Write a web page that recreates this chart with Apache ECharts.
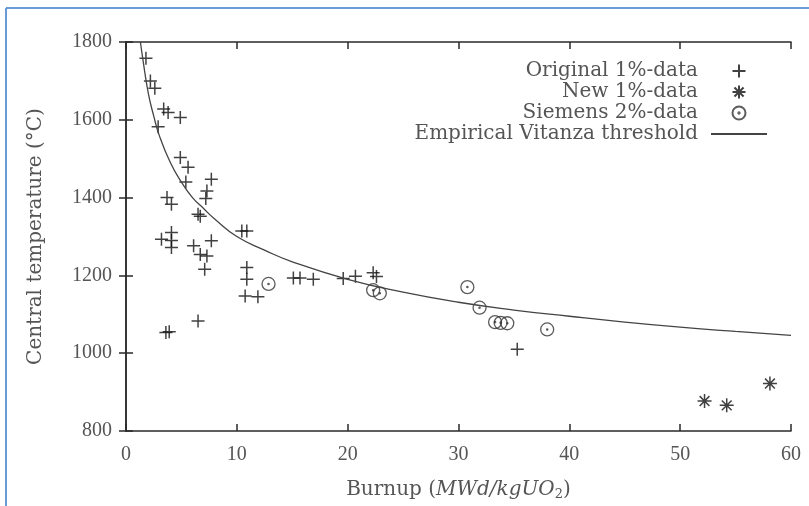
<!DOCTYPE html>
<html>
<head>
<meta charset="utf-8">
<script src="https://cdn.jsdelivr.net/npm/echarts@6/dist/echarts.min.js"></script>
<style>
  html, body { margin: 0; padding: 0; background: #fff; }
  #chart { width: 809px; height: 506px; }
</style>
</head>
<body>
<div id="chart"></div>
<script>
// Original 1%-data  [burnup, temperature]
var original = [
  [1.8, 1758], [2.2, 1700], [2.6, 1681], [3.4, 1628], [3.8, 1619], [4.9, 1606],
  [2.9, 1582], [4.9, 1503], [5.6, 1478], [5.4, 1440], [7.7, 1447], [7.3, 1417],
  [7.2, 1398], [3.7, 1400], [4.1, 1383], [6.5, 1357], [6.7, 1352], [10.45, 1314],
  [10.9, 1314], [3.2, 1293], [4.1, 1310], [4.1, 1290], [4.1, 1272], [6.1, 1276],
  [7.7, 1289], [6.7, 1254], [7.3, 1250], [7.1, 1216], [10.9, 1220], [10.9, 1190],
  [10.75, 1147], [11.9, 1145], [15.1, 1193], [15.7, 1193], [16.9, 1190], [19.6, 1192],
  [20.7, 1198], [22.3, 1207], [22.6, 1197], [3.6, 1053], [3.9, 1055], [6.5, 1083],
  [35.3, 1010]
]
// New 1%-data
var newData = [[52.2, 877], [54.2, 866], [58.1, 922]]
// Siemens 2%-data
var siemens = [
  [12.86, 1178], [22.3, 1162], [22.9, 1154], [30.8, 1170], [31.9, 1117],
  [33.3, 1080], [33.8, 1078], [34.4, 1077], [38.0, 1061]
]
// Empirical Vitanza threshold
var threshold = [
  [1.3, 1800], [1.5, 1760], [2, 1670], [2.5, 1610], [3, 1560], [4, 1490],
  [5, 1440], [6, 1400], [7, 1372], [8, 1345], [10, 1300], [12.5, 1265],
  [15, 1235], [20, 1190], [25, 1157], [30, 1131], [35, 1111], [40, 1095],
  [45, 1080], [50, 1067], [55, 1056], [60, 1046]
]

var numFont = 'Liberation Serif'
var textFont = 'DejaVu Serif'
var textGray = '#555'
var axisColor = '#2a2a2a'

var plusPath = 'path://M0,5L10,5M5,0L5,10'
var starPath = 'path://M0,5L10,5M5,0L5,10M1.5,1.5L8.5,8.5M1.5,8.5L8.5,1.5'
var circPath = 'path://M10,5A5,5 0 1 1 0,5A5,5 0 1 1 10,5ZM5.5,5A0.5,0.5 0 1 1 4.5,5A0.5,0.5 0 1 1 5.5,5Z'

function xAx(pos, showLabel) {
  return {
    type: 'value', position: pos, min: 0, max: 60, interval: 10,
    axisLine: { show: true, lineStyle: { color: axisColor, width: 1.5 } },
    axisTick: { show: true, inside: true, length: 7, lineStyle: { color: axisColor, width: 1.5 } },
    axisLabel: { show: showLabel, color: textGray, fontFamily: numFont, fontSize: 20, margin: 14 },
    splitLine: { show: false }
  }
}
function yAx(pos, showLabel) {
  return {
    type: 'value', position: pos, min: 800, max: 1800, interval: 200,
    axisLine: { show: true, lineStyle: { color: axisColor, width: 1.5 } },
    axisTick: { show: true, inside: true, length: 7, lineStyle: { color: axisColor, width: 1.5 } },
    axisLabel: {
      show: showLabel, color: textGray, fontFamily: numFont, fontSize: 20, margin: 14,
      formatter: function (v) { return String(v) }
    },
    splitLine: { show: false }
  }
}

var xBottom = xAx('bottom', true)
xBottom.name = '{r|Burnup (}{i|MWd/kgUO}{s|2}{r|)}'
xBottom.nameLocation = 'middle'
xBottom.nameGap = 48
xBottom.nameTextStyle = {
  color: textGray,
  rich: {
    r: { fontFamily: textFont, fontSize: 20, color: textGray },
    i: { fontFamily: textFont, fontSize: 20, fontStyle: 'italic', color: textGray },
    s: { fontFamily: textFont, fontSize: 13, color: textGray, padding: [9, 0, 0, 0] }
  }
}
var yLeft = yAx('left', true)
yLeft.name = 'Central temperature (°C)'
yLeft.nameLocation = 'middle'
yLeft.nameGap = 80
yLeft.nameTextStyle = { color: textGray, fontFamily: textFont, fontSize: 20 }

var chart = echarts.init(document.getElementById('chart'))
chart.setOption({
  animation: false,
  backgroundColor: '#fff',
  grid: { left: 126, right: 18, top: 42, bottom: 74 },
  xAxis: [xBottom, xAx('top', false)],
  yAxis: [yLeft, yAx('right', false)],
  legend: {
    orient: 'vertical',
    right: 36,
    top: 56,
    align: 'right',
    itemWidth: 56,
    itemHeight: 13,
    itemGap: 1,
    textStyle: { color: textGray, fontFamily: textFont, fontSize: 20, padding: [0, 8, 0, 0] },
    data: [
      'Original 1%-data', 'New 1%-data', 'Siemens 2%-data',
      { name: 'Empirical Vitanza threshold', itemStyle: { opacity: 0 } }
    ]
  },
  graphic: [
    { type: 'line', shape: { x1: 6, y1: 8, x2: 809, y2: 8 }, style: { stroke: '#6a9bd8', lineWidth: 2 } },
    { type: 'line', shape: { x1: 6, y1: 8, x2: 6, y2: 506 }, style: { stroke: '#6a9bd8', lineWidth: 2 } }
  ],
  series: [
    {
      name: 'Original 1%-data', type: 'scatter', data: original,
      symbol: plusPath, symbolSize: 13, symbolKeepAspect: true,
      itemStyle: { color: 'transparent', borderColor: '#111', borderWidth: 1.5 }
    },
    {
      name: 'New 1%-data', type: 'scatter', data: newData,
      symbol: starPath, symbolSize: 14, symbolKeepAspect: true,
      itemStyle: { color: 'transparent', borderColor: '#111', borderWidth: 1.5 }
    },
    {
      name: 'Siemens 2%-data', type: 'scatter', data: siemens,
      symbol: circPath, symbolSize: 13, symbolKeepAspect: true,
      itemStyle: { color: 'transparent', borderColor: '#333', borderWidth: 1.3 }
    },
    {
      name: 'Empirical Vitanza threshold', type: 'line', data: threshold,
      smooth: true, symbol: 'none',
      lineStyle: { color: '#444', width: 1.3 },
      itemStyle: { color: '#444' }
    }
  ]
})
</script>
</body>
</html>
